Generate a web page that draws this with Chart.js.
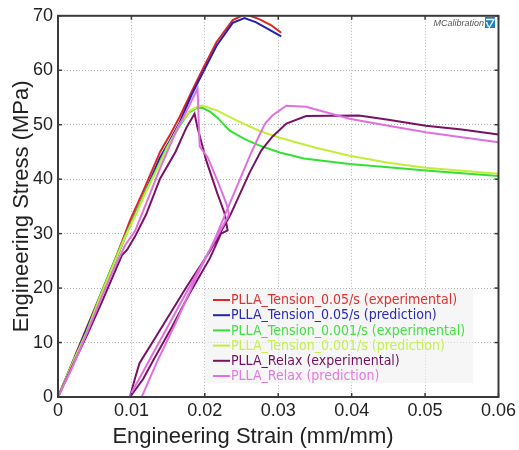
<!DOCTYPE html>
<html><head><meta charset="utf-8">
<script src="https://cdn.jsdelivr.net/npm/chart.js@4/dist/chart.umd.min.js"></script>
<style>html,body{margin:0;padding:0;background:#fff;}canvas{display:block;}</style>
</head><body>
<canvas id="c" width="519" height="450"></canvas>
<script>
// ---------- data ----------
const seriesLabels = [
  'PLLA_Tension_0.05/s (experimental)',
  'PLLA_Tension_0.05/s (prediction)',
  'PLLA_Tension_0.001/s (experimental)',
  'PLLA_Tension_0.001/s (prediction)',
  'PLLA_Relax (experimental)',
  'PLLA_Relax (prediction)'
];
const seriesColors = ['#e02424', '#2222b0', '#33e033', '#c2ee3a', '#7a1264', '#e070e0'];
const legendTextColors = ['#e03030', '#2a2ab8', '#44e044', '#c6f04e', '#741060', '#e27ae2'];

const redStrain = [0, 0.002, 0.004, 0.006, 0.008, 0.0098, 0.0115, 0.0139, 0.0152, 0.0166, 0.0184, 0.0197, 0.0216, 0.0238, 0.0255, 0.0274, 0.0290, 0.0304];
const redStress = [0, 6.5, 13, 19.5, 26, 32.4, 37.5, 45, 48, 51.5, 56.6, 60.2, 65.2, 69.2, 70.3, 69.4, 68.3, 66.9];

const blueStrain = [0, 0.002, 0.004, 0.006, 0.008, 0.0098, 0.0115, 0.0139, 0.0152, 0.0166, 0.0182, 0.0197, 0.0216, 0.0238, 0.0254, 0.0270, 0.0287, 0.0304];
const blueStress = [0, 6.3, 12.8, 19.2, 25.6, 31.5, 36.5, 44, 47, 50.5, 55.5, 59.5, 64.5, 68.7, 69.6, 68.8, 67.5, 66.2];

const greenStrain = [0, 0.002, 0.0039, 0.0057, 0.0077, 0.0091, 0.0105, 0.012, 0.0135, 0.0148, 0.0166, 0.0178, 0.0188, 0.0197, 0.0208, 0.0217, 0.0234, 0.0255, 0.0274, 0.0302, 0.0335, 0.0397, 0.045, 0.0501, 0.06];
const greenStress = [0, 6.3, 12, 18.5, 25, 29.5, 33.5, 38, 42, 45.8, 49.8, 52.2, 53, 53.1, 52.3, 51.3, 48.9, 47.3, 46.2, 44.9, 43.8, 42.8, 42.2, 41.6, 40.6];

const yellowStrain = [0, 0.002, 0.0039, 0.0057, 0.0077, 0.0091, 0.0105, 0.012, 0.0135, 0.0148, 0.0166, 0.018, 0.019, 0.0197, 0.0217, 0.0243, 0.0274, 0.0302, 0.035, 0.0397, 0.045, 0.0501, 0.06];
const yellowStress = [0, 6.2, 11.8, 18.2, 24.7, 29.2, 33.2, 37.7, 41.8, 45.5, 50.2, 52.6, 53.3, 53.5, 52.6, 50.8, 48.9, 47.6, 45.8, 44.3, 43.0, 42.1, 41.0];

const purpleStrain = [0, 0.002, 0.004, 0.006, 0.0087, 0.0094, 0.0105, 0.012, 0.0139, 0.016, 0.0175, 0.0186, 0.019, 0.0202, 0.0217, 0.0227, 0.0231, 0.0222,
  0.0207, 0.018, 0.0155, 0.013, 0.0116, 0.0098,
  0.0105, 0.0111, 0.0139, 0.0175, 0.0207, 0.0235, 0.0261, 0.0277, 0.0292, 0.0311, 0.0338, 0.041, 0.045, 0.0501, 0.055, 0.06];
const purpleStress = [0, 5.8, 11.5, 17.5, 26, 27, 29.5, 33.5, 40.1, 45, 49.5, 52, 49.5, 43.4, 37.4, 33.7, 30.6, 30.0,
  25.5, 19.2, 12.8, 6.8, 3.3, 0,
  3.5, 6.2, 12.3, 20.2, 26.8, 33.5, 41.2, 45.3, 47.8, 50.2, 51.6, 51.7, 50.9, 49.8, 49.1, 48.2];

const pinkStrain = [0, 0.002, 0.0041, 0.006, 0.0077, 0.0092, 0.0105, 0.012, 0.0139, 0.016, 0.0175, 0.0186, 0.019, 0.0193, 0.0204, 0.0217, 0.023, 0.0233,
  0.0097, 0.0114,
  0.0135, 0.016, 0.0185, 0.0213, 0.024, 0.0262, 0.0274, 0.0282, 0.0292, 0.0311, 0.0338, 0.0397, 0.045, 0.0501, 0.055, 0.06];
const pinkStress = [0, 5.6, 12.3, 18.5, 23.8, 28, 30.5, 35.5, 42, 48.5, 52.5, 55.5, 56.6, 46, 44, 39.8, 35.3, 33.5,
  0, 0,
  6.5, 13.5, 21, 28.8, 37.5, 44.5, 48, 50.2, 51.7, 53.5, 53.3, 51.1, 49.8, 48.6, 47.7, 46.8];

const xTickValues = [0, 0.01, 0.02, 0.03, 0.04, 0.05, 0.06];
const xTickLabels = ['0', '0.01', '0.02', '0.03', '0.04', '0.05', '0.06'];
const yTickValues = [0, 10, 20, 30, 40, 50, 60, 70];
const yTickLabels = ['0', '10', '20', '30', '40', '50', '60', '70'];
const xTitle = 'Engineering Strain (mm/mm)';
const yTitle = 'Engineering Stress (MPa)';
const logoText = 'MCalibration';

// ---------- build ----------
const seriesStrain = [redStrain, blueStrain, greenStrain, yellowStrain, purpleStrain, pinkStrain];
const seriesStress = [redStress, blueStress, greenStress, yellowStress, purpleStress, pinkStress];
const datasets = seriesLabels.map((lab, i) => ({
  label: lab,
  data: seriesStrain[i].map((x, k) => ({x: x, y: seriesStress[i][k]})),
  showLine: true,
  borderColor: seriesColors[i],
  backgroundColor: seriesColors[i],
  borderWidth: 2,
  pointRadius: 0,
  tension: 0,
  fill: false,
  order: seriesLabels.length - i
}));

const decor = {
  id: 'decor',
  afterDatasetsDraw(chart) {
    const ctx = chart.ctx, a = chart.chartArea;
    const xs = chart.scales.x, ys = chart.scales.y;
    ctx.save();
    // legend box
    const lx = 205, ly = 289, lw = 268, lh = 94;
    ctx.fillStyle = 'rgba(238,238,238,0.55)';
    ctx.fillRect(lx, ly, lw, lh);
    ctx.font = '14px "DejaVu Sans Condensed", "Liberation Sans", sans-serif';
    ctx.textBaseline = 'middle';
    ctx.textAlign = 'left';
    seriesLabels.forEach((lab, i) => {
      const y = 300 + i * 15.2;
      ctx.strokeStyle = seriesColors[i];
      ctx.lineWidth = 2;
      ctx.beginPath(); ctx.moveTo(213, y); ctx.lineTo(230, y); ctx.stroke();
      ctx.fillStyle = legendTextColors[i];
      ctx.fillText(lab, 231, y + 0.5);
    });
    // logo
    ctx.font = 'italic 9px "Liberation Sans", sans-serif';
    ctx.fillStyle = '#555';
    ctx.textAlign = 'right';
    ctx.fillText(logoText, 484, 23);
    ctx.fillStyle = '#1f7fc4';
    ctx.fillRect(485, 17, 10, 11);
    ctx.strokeStyle = '#fff';
    ctx.lineWidth = 1.3;
    ctx.beginPath(); ctx.moveTo(486, 19.5); ctx.lineTo(494, 19.5); ctx.lineTo(489, 28); ctx.stroke();
    ctx.beginPath(); ctx.moveTo(486.5, 22); ctx.lineTo(488.5, 27); ctx.stroke();
    ctx.restore();
  },
  afterDraw(chart) {
    const ctx = chart.ctx, a = chart.chartArea;
    const xs = chart.scales.x, ys = chart.scales.y;
    ctx.save();
    ctx.strokeStyle = '#3a3a3a';
    ctx.lineWidth = 1.5;
    xTickValues.forEach(v => {
      const px = xs.getPixelForValue(v);
      ctx.beginPath(); ctx.moveTo(px, a.top); ctx.lineTo(px, a.top + 4); ctx.stroke();
      ctx.beginPath(); ctx.moveTo(px, a.bottom); ctx.lineTo(px, a.bottom - 4); ctx.stroke();
    });
    yTickValues.forEach(v => {
      const py = ys.getPixelForValue(v);
      ctx.beginPath(); ctx.moveTo(a.left, py); ctx.lineTo(a.left + 4, py); ctx.stroke();
      ctx.beginPath(); ctx.moveTo(a.right, py); ctx.lineTo(a.right - 4, py); ctx.stroke();
    });
    ctx.lineWidth = 2;
    ctx.strokeStyle = '#3a3a3a';
    ctx.strokeRect(a.left, a.top, a.right - a.left, a.bottom - a.top);
    // axis titles
    ctx.fillStyle = '#222';
    ctx.font = '22px "Liberation Sans", Arial, sans-serif';
    ctx.textAlign = 'center';
    ctx.textBaseline = 'middle';
    ctx.fillText(xTitle, 253, 437);
    ctx.translate(22, (a.top + a.bottom) / 2);
    ctx.rotate(-Math.PI / 2);
    ctx.fillText(yTitle, 0, 0);
    ctx.restore();
  }
};

new Chart(document.getElementById('c'), {
  type: 'scatter',
  data: {datasets},
  options: {
    responsive: false,
    animation: false,
    devicePixelRatio: 1,
    layout: {padding: {top: 15, right: 19, left: 0, bottom: 0}},
    plugins: {legend: {display: false}, tooltip: {enabled: false}},
    scales: {
      x: {
        type: 'linear', min: 0, max: 0.06,
        afterFit(s) { s.height = 53; },
        afterBuildTicks(s) { s.ticks = xTickValues.map(v => ({value: v})); },
        ticks: {
          callback: (v, i) => xTickLabels[i],
          font: {family: '"Liberation Sans", Arial, sans-serif', size: 18},
          color: '#222', padding: 3, maxRotation: 0, autoSkip: false
        },
        grid: {color: '#b5b5b5', lineWidth: 1, drawTicks: false},
        border: {display: false, dash: [1, 2]}
      },
      y: {
        type: 'linear', min: 0, max: 70,
        afterFit(s) { s.width = 58; },
        afterBuildTicks(s) { s.ticks = yTickValues.map(v => ({value: v})); },
        ticks: {
          callback: (v, i) => yTickLabels[i],
          font: {family: '"Liberation Sans", Arial, sans-serif', size: 18},
          color: '#222', padding: 5, autoSkip: false
        },
        grid: {color: '#b5b5b5', lineWidth: 1, drawTicks: false},
        border: {display: false, dash: [1, 2]}
      }
    }
  },
  plugins: [decor]
});
</script>
</body></html>
